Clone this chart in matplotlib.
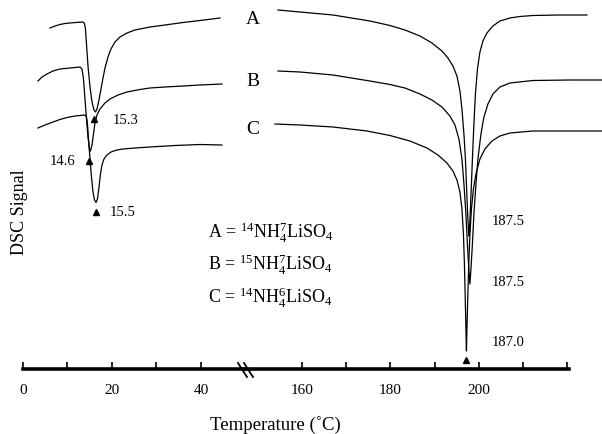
import matplotlib
matplotlib.use('Agg')
import matplotlib.pyplot as plt
from matplotlib.lines import Line2D

plt.rcParams['font.family'] = ['Liberation Serif', 'DejaVu Serif']
plt.rcParams['mathtext.fontset'] = 'custom'
plt.rcParams['mathtext.rm'] = 'Liberation Serif'
plt.rcParams['mathtext.it'] = 'Liberation Serif:italic'

# low temperature transition (deg C, signal in arbitrary units)
a_low_t = [6.07, 7.19, 8.31, 9.44, 10.56, 12.36, 13.48, 13.82, 14.04, 14.27, 14.61, 15.06, 15.51, 15.96, 16.29, 16.63,
           17.08, 17.53, 17.98, 18.43, 19.10, 19.78, 20.67, 21.80, 23.37, 25.17, 28.54, 31.91, 35.96, 39.78, 44.27]
a_low_s = [34.1, 34.3, 34.45, 34.55, 34.6, 34.67, 34.7, 34.55, 34.0, 32.5, 30.3, 28.2, 26.7, 25.9, 25.7, 26.0,
           26.9, 28.0, 29.1, 30.1, 31.2, 32.0, 32.7, 33.2, 33.6, 33.9, 34.2, 34.4, 34.65, 34.85, 35.1]
b_low_t = [3.37, 4.27, 5.39, 6.74, 8.31, 10.56, 12.81, 13.26, 13.60, 13.93, 14.27, 14.61, 14.94, 15.17, 15.51,
           15.84, 16.18, 16.63, 17.30, 18.43, 19.55, 21.35, 23.37, 26.29, 28.54, 31.91, 35.96, 39.78, 44.72]
b_low_s = [28.8, 29.2, 29.5, 29.8, 30.0, 30.1, 30.2, 30.0, 29.0, 27.0, 25.0, 23.2, 22.0, 21.8, 22.4,
           23.5, 24.6, 25.4, 26.0, 26.6, 27.0, 27.4, 27.7, 27.95, 28.1, 28.2, 28.3, 28.4, 28.5]
c_low_t = [3.37, 4.94, 6.74, 8.31, 9.89, 11.69, 13.93, 14.27, 14.49, 14.72, 15.06, 15.39, 15.73, 16.07, 16.40,
           16.74, 17.08, 17.42, 17.75, 18.20, 18.88, 19.78, 21.12, 22.47, 25.17, 28.54, 34.16, 39.78, 44.72]
c_low_s = [24.1, 24.4, 24.7, 24.95, 25.15, 25.3, 25.4, 25.2, 24.5, 23.0, 21.0, 19.2, 17.7, 16.9, 16.65,
           17.0, 18.2, 19.5, 20.4, 21.0, 21.4, 21.7, 21.9, 22.0, 22.1, 22.2, 22.35, 22.45, 22.4]

# high temperature transition
a_high_t = [154.57, 159.55, 167.01, 175.38, 179.91, 183.30, 186.70, 189.41, 191.67, 193.03, 194.16, 195.07, 195.75,
            196.20, 196.65, 196.99, 197.22, 197.44, 197.67, 197.78, 197.90, 198.12, 198.35, 198.57, 198.91, 199.25,
            199.71, 200.27, 200.95, 201.86, 203.21, 204.80, 207.06, 209.32, 212.26, 218.37, 224.48]
a_high_s = [35.9, 35.7, 35.4, 34.8, 34.35, 33.9, 33.3, 32.6, 31.8, 31.1, 30.3, 29.3, 27.8,
            26.0, 23.5, 21.0, 18.5, 16.0, 14.0, 13.3, 14.0, 16.0, 18.5, 21.0, 24.5, 27.5,
            30.0, 31.7, 32.8, 33.6, 34.3, 34.8, 35.1, 35.25, 35.35, 35.4, 35.4]
b_high_t = [154.57, 159.55, 167.01, 175.38, 179.91, 183.30, 186.70, 189.41, 191.67, 193.48, 194.62, 195.52, 196.20,
            196.65, 197.10, 197.44, 197.78, 198.01, 198.24, 198.57, 198.91, 199.37, 199.82, 200.50, 201.18, 202.08,
            203.21, 204.80, 207.06, 212.26, 220.63, 227.87]
b_high_s = [29.8, 29.7, 29.4, 28.8, 28.45, 28.1, 27.5, 26.9, 26.2, 25.3, 24.4, 23.0, 21.0,
            18.5, 15.5, 12.5, 9.8, 8.5, 10.0, 12.5, 15.5, 18.5, 21.0, 23.5, 25.2, 26.5,
            27.5, 28.2, 28.6, 28.85, 28.9, 28.9]
c_high_t = [153.89, 159.55, 167.01, 174.71, 179.91, 184.43, 188.28, 190.77, 192.81, 194.16, 195.07, 195.75, 196.20,
            196.54, 196.76, 196.95, 197.10, 197.22, 197.33, 197.51, 197.74, 198.01, 198.35, 198.80, 199.37, 200.27,
            201.40, 202.99, 204.80, 207.06, 212.26, 220.63, 227.87]
c_high_s = [24.5, 24.4, 24.2, 23.8, 23.35, 22.8, 22.1, 21.4, 20.6, 19.8, 18.9, 17.7, 16.0,
            13.5, 10.5, 7.0, 4.0, 1.8, 4.0, 7.0, 10.5, 13.5, 16.0, 18.0, 19.5, 21.0,
            22.0, 22.8, 23.3, 23.6, 23.8, 23.8, 23.8]

# peak markers and their labels
low_peak_t = [16.0, 14.83, 16.40]
low_peak_s = [25.0, 20.8, 15.7]
low_peak_labels = ['15.3', '14.6', '15.5']
high_peak_t = [197.1]
high_peak_s = [0.9]
high_peak_labels = ['187.5', '187.5', '187.0']
high_label_s = [14.8, 8.7, 2.7]

curve_names = ['A', 'B', 'C']
curve_name_s = [35.0, 28.8, 24.0]
legend_lines = [r'A = $^{14}$NH$_4^7$LiSO$_4$',
                r'B = $^{15}$NH$_4^7$LiSO$_4$',
                r'C = $^{14}$NH$_4^6$LiSO$_4$']
legend_s = [13.7, 10.5, 7.2]

W, H = 602, 435
fig = plt.figure(figsize=(W / 100, H / 100), dpi=100)


def box(x0, x1):
    return [x0 / W, (H - 370) / H, (x1 - x0) / W, 370 / H]


ax1 = fig.add_axes(box(23, 245))
ax2 = fig.add_axes(box(245, 602))
ax1.set_xlim(0, 49.9)
ax2.set_xlim(147.1, 227.9)

for ax in (ax1, ax2):
    ax.set_ylim(0, 37)
    ax.patch.set_visible(False)
    for side in ('top', 'right', 'left'):
        ax.spines[side].set_visible(False)
    ax.spines['bottom'].set_linewidth(2.6)
    ax.set_yticks([])
    ax.tick_params(axis='x', direction='in', length=5, width=1.2, pad=10, labelsize=11)

ax2.spines['bottom'].set_bounds(147.1, 220.5)
ax1.set_xticks([0, 10, 20, 30, 40])
ax1.set_xticklabels(['0', '', '20', '', '40'])
ax2.set_xticks([160, 170, 180, 190, 200, 210, 220])
ax2.set_xticklabels(['160', '', '180', '', '200', '', ''])

for t, s in ((a_low_t, a_low_s), (b_low_t, b_low_s), (c_low_t, c_low_s)):
    ax1.plot(t, s, color='black', lw=0.9)
for t, s in ((a_high_t, a_high_s), (b_high_t, b_high_s), (c_high_t, c_high_s)):
    ax2.plot(t, s, color='black', lw=0.9)

ax1.plot(low_peak_t, low_peak_s, '^', color='black', ms=4.5)
ax2.plot(high_peak_t, high_peak_s, '^', color='black', ms=3.8)

ax1.text(20.2, low_peak_s[0], low_peak_labels[0], fontsize=10.5, va='center')
ax1.text(11.7, low_peak_s[1], low_peak_labels[1], fontsize=10.5, va='center', ha='right')
ax1.text(19.6, low_peak_s[2], low_peak_labels[2], fontsize=10.5, va='center')
for lab, s in zip(high_peak_labels, high_label_s):
    ax2.text(203.0, s, lab, fontsize=10.5, va='center')

for name, s in zip(curve_names, curve_name_s):
    ax2.text(148.9, s, name, fontsize=14, ha='center', va='center')

for line, s in zip(legend_lines, legend_s):
    ax1.text(41.6, s, line, fontsize=13, va='center')

# axis break marks
for x0 in (238, 244):
    fig.add_artist(Line2D([x0 / W, (x0 + 9) / W], [1 - 364 / H, 1 - 378 / H],
                          color='black', lw=1.3, transform=fig.transFigure))

fig.text(20 / W, 1 - 212 / H, 'DSC Signal', rotation=90, fontsize=13, ha='center', va='center')
fig.text(275 / W, 1 - 425 / H, 'Temperature (\u02daC)', fontsize=13.5, ha='center', va='center')

fig.savefig('out.png', dpi=100)
